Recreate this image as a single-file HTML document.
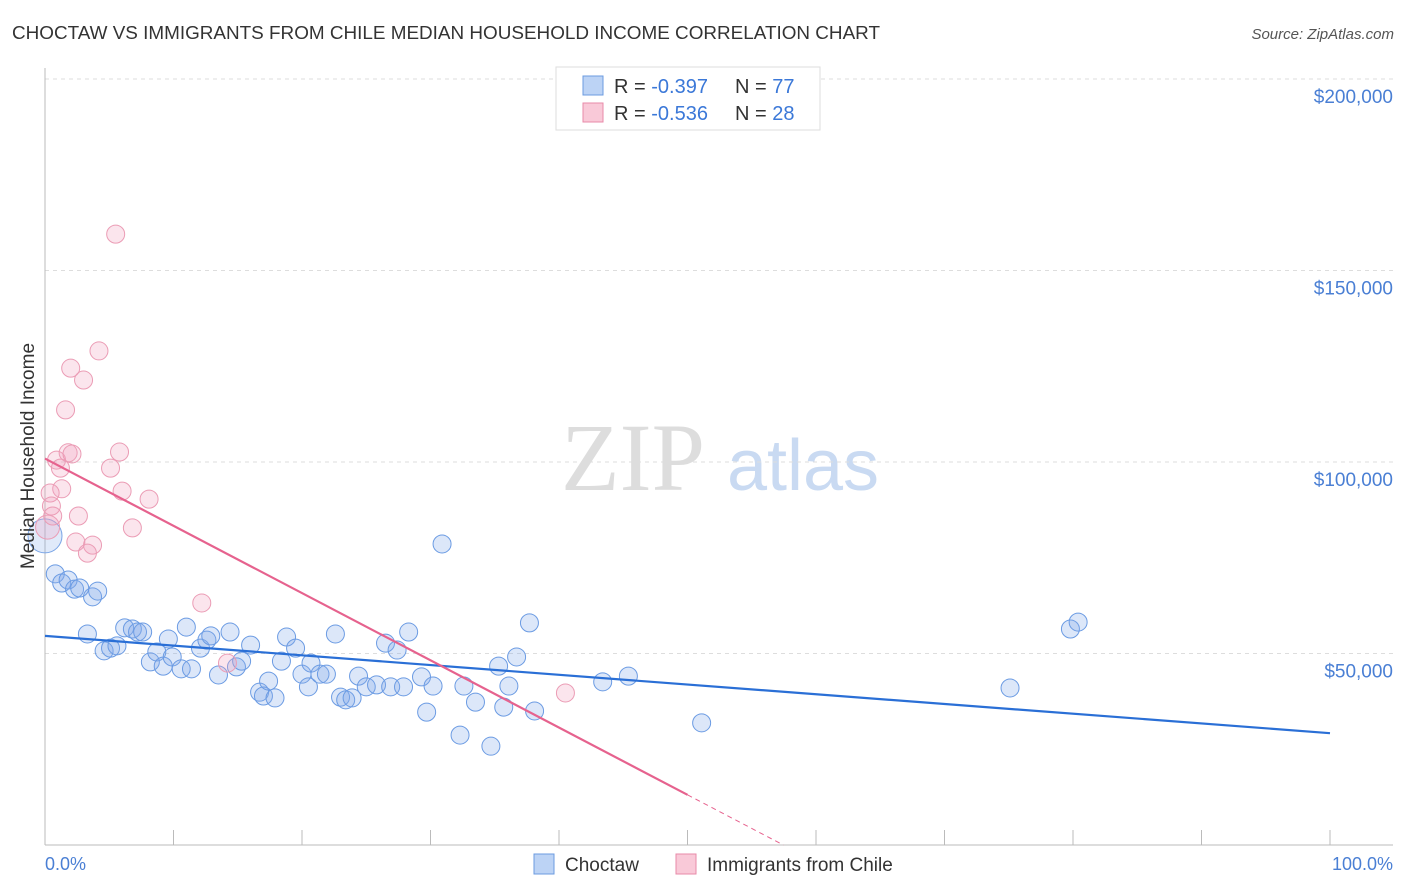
<!DOCTYPE html>
<html><head><meta charset="utf-8"><style>
body{margin:0;background:#fff;font-family:"Liberation Sans",sans-serif}
#w{position:relative;width:1406px;height:892px;overflow:hidden}
</style></head><body><div id="w">
<svg id="s" width="1406" height="892">
<text x="12" y="39" font-size="18" fill="#333" textLength="868" lengthAdjust="spacingAndGlyphs">CHOCTAW VS IMMIGRANTS FROM CHILE MEDIAN HOUSEHOLD INCOME CORRELATION CHART</text>
<text x="1394" y="39" font-size="15" fill="#555" font-style="italic" text-anchor="end">Source: ZipAtlas.com</text>
<text x="633" y="490" font-size="96" fill="#ddd" font-family="Liberation Serif,serif" text-anchor="middle">ZIP</text>
<text x="803" y="490" font-size="72" fill="#c9daf2" text-anchor="middle">atlas</text>
<g id="grid"></g><g id="pts"></g><g id="lines"></g>
<text transform="translate(34,456) rotate(-90)" font-size="19" fill="#333" text-anchor="middle">Median Household Income</text>
<text x="45" y="870" font-size="18" fill="#4a7fd4">0.0%</text>
<text x="1393" y="870" font-size="18" fill="#4a7fd4" text-anchor="end">100.0%</text>
<rect x="556" y="67" width="264" height="63" fill="#fff" stroke="#ddd"/>
<rect x="583" y="76" width="20" height="19" fill="#bcd3f5" stroke="#6b9be0"/>
<rect x="583" y="103" width="20" height="19" fill="#f9c9d8" stroke="#e88aa8"/>
<text x="614" y="93" font-size="20" fill="#333">R = <tspan fill="#3b78d8">-0.397</tspan></text>
<text x="735" y="93" font-size="20" fill="#333">N = <tspan fill="#3b78d8">77</tspan></text>
<text x="614" y="120" font-size="20" fill="#333">R = <tspan fill="#3b78d8">-0.536</tspan></text>
<text x="735" y="120" font-size="20" fill="#333">N = <tspan fill="#3b78d8">28</tspan></text>
<rect x="534" y="854" width="20" height="20" fill="#bcd3f5" stroke="#6b9be0"/>
<text x="565" y="871" font-size="19" fill="#333">Choctaw</text>
<rect x="676" y="854" width="20" height="20" fill="#f9c9d8" stroke="#e88aa8"/>
<text x="707" y="871" font-size="19" fill="#333">Immigrants from Chile</text>
</svg></div>
<script>
const yTicks=[50000,100000,150000,200000];
const yTickLabels=["$50,000","$100,000","$150,000","$200,000"];
const blueX=[0.8,1.3,1.8,2.3,2.7,3.7,4.1,3.3,4.6,5.1,5.6,6.2,6.8,7.2,7.6,8.2,8.7,9.2,9.6,9.9,10.6,11.0,11.4,12.1,12.6,12.9,13.5,14.4,14.9,15.3,16.0,16.7,17.0,17.4,17.9,18.4,18.8,19.5,20.0,20.5,20.7,21.4,21.9,22.6,23.0,23.4,23.9,24.4,25.0,25.8,26.5,26.9,27.4,27.9,28.3,29.3,29.7,30.2,30.9,32.3,32.6,33.5,34.7,35.3,35.7,36.1,36.7,37.7,38.1,43.4,45.4,51.1,75.1,79.8,80.4];
const blueY=[70.8,68.4,69.2,66.8,67.1,64.8,66.3,55.1,50.7,51.4,52.0,56.7,56.4,55.6,55.6,47.8,50.4,46.7,53.8,49.1,46.0,56.9,46.0,51.4,53.5,54.6,44.4,55.6,46.5,48.0,52.2,39.9,38.9,42.8,38.4,48.0,54.3,51.4,44.6,41.3,47.5,44.6,44.6,55.1,38.6,37.9,38.4,44.1,41.3,41.8,52.7,41.3,50.9,41.3,55.6,43.9,34.7,41.5,78.6,28.7,41.5,37.3,25.8,46.7,36.0,41.5,49.1,58.0,35.0,42.6,44.1,31.9,41.0,56.4,58.2];
const pinkX=[5.5,4.2,2.0,3.0,1.6,0.9,1.8,2.1,1.2,5.1,5.8,1.3,6.0,8.1,0.4,0.5,0.6,2.6,6.8,2.4,3.7,3.3,12.2,14.2,40.5];
const pinkY=[159.5,129.0,124.5,121.4,113.6,100.5,102.4,102.1,98.4,98.4,102.6,93.0,92.4,90.3,91.9,88.5,85.9,85.9,82.8,79.1,78.3,76.2,63.2,47.5,39.7];
const blueTrend=[54.6,29.2];
const pinkTrend=[100.9,13.1];
const NS="http://www.w3.org/2000/svg";
const X=p=>45+p*12.85, Y=k=>845-k*1000*191.5/50000;
function mk(t,a,parent){const e=document.createElementNS(NS,t);for(const k in a)e.setAttribute(k,a[k]);document.getElementById(parent).appendChild(e);return e;}
yTicks.forEach((v,i)=>{
 const l=mk('line',{x1:45,x2:1393,y1:Y(v/1000),y2:Y(v/1000),stroke:'#ddd','stroke-dasharray':'4,4'},'grid');
 
 
 const t=mk('text',{x:1393,y:Y(v/1000)+24,'font-size':19,fill:'#4a7fd4','text-anchor':'end'},'grid');
 t.textContent=yTickLabels[i];
 
 
});
const ax=mk('line',{x1:45,x2:1393,y1:845,y2:845,stroke:'#bbb'},'grid');


const ay=mk('line',{x1:45,x2:45,y1:68,y2:845,stroke:'#bbb'},'grid');


for(let i=1;i<=10;i++){const t=mk('line',{x1:X(i*10),x2:X(i*10),y1:830,y2:845,stroke:'#bbb'},'grid');
 
 }
function dot(x,y,r,f,s,n){const c=mk('circle',{cx:X(x),cy:Y(y),r:r,fill:f,stroke:s,'stroke-width':1},'pts');
 
 }
dot(0,80.7,17,'rgba(130,170,235,0.25)','#7aa5e6','choctaw-point');
dot(0.2,83.0,12,'rgba(240,160,190,0.25)','#eb9cb5','chile-point');
blueX.forEach((x,i)=>dot(x,blueY[i],9,'rgba(130,170,235,0.28)','#6b9be3','choctaw-point'));
pinkX.forEach((x,i)=>dot(x,pinkY[i],9,'rgba(240,160,190,0.28)','#eb9cb5','chile-point'));
const bl=mk('line',{x1:X(0),y1:Y(blueTrend[0]),x2:X(100),y2:Y(blueTrend[1]),stroke:'#2a6fd6','stroke-width':2.2},'lines');


const slope=(pinkTrend[1]-pinkTrend[0])/50, zero=-pinkTrend[0]/slope;
const pl=mk('line',{x1:X(0),y1:Y(pinkTrend[0]),x2:X(50),y2:Y(pinkTrend[1]),stroke:'#e6628e','stroke-width':2.2},'lines');


const pd=mk('line',{x1:X(50),y1:Y(pinkTrend[1]),x2:X(zero),y2:Y(0),stroke:'#e6628e','stroke-width':1,'stroke-dasharray':'5,4'},'lines');


</script></body></html>
